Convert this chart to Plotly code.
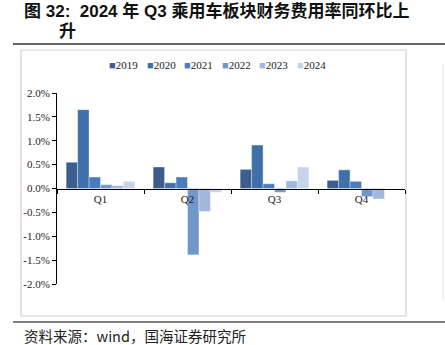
import plotly.graph_objects as go

quarters = ["Q1", "Q2", "Q3", "Q4"]
years = ["2019", "2020", "2021", "2022", "2023", "2024"]
values = {
    "2019": [0.55, 0.45, 0.40, 0.17],
    "2020": [1.65, 0.12, 0.91, 0.39],
    "2021": [0.24, 0.24, 0.10, 0.15],
    "2022": [0.08, -1.39, -0.08, -0.17],
    "2023": [0.06, -0.48, 0.16, -0.22],
    "2024": [0.15, -0.08, 0.45, None],
}
colors = ["#3B5E8E", "#4070A9", "#4A7DBF", "#7196CA", "#A3B7DA", "#C6D3E8"]
ytick_vals = [2.0, 1.5, 1.0, 0.5, 0.0, -0.5, -1.0, -1.5, -2.0]
ytick_text = [f"{v:.1f}%" for v in ytick_vals]

title_line1 = "<b>图 32:  2024 年 Q3 乘用车板块财务费用率同环比上</b>"
title_line2 = "<b>升</b>"
source_text = "资料来源：wind，国海证券研究所"

W, H = 445, 345
L, R, T, B = 57, 40, 93, 61
PW, PH = W - L - R, H - T - B


def px(x):
    return (x - L) / PW


def py(y):
    return (H - B - y) / PH


fig = go.Figure()
for yr, c in zip(years, colors):
    fig.add_trace(go.Bar(
        x=quarters, y=values[yr], name=yr,
        marker=dict(color=c, line=dict(color="rgba(255,255,255,0.6)", width=0.6)),
        showlegend=False,
    ))

serif = "Liberation Serif, Times New Roman, serif"
fig.update_layout(
    width=W, height=H,
    margin=dict(l=L, r=R, t=T, b=B),
    paper_bgcolor="white", plot_bgcolor="white",
    barmode="group", bargap=0.21, bargroupgap=0,
    xaxis=dict(
        type="category", anchor="free", position=0.5,
        showline=True, linecolor="black", linewidth=1,
        ticks="outside", tickson="boundaries", ticklen=4, tickcolor="black",
        showgrid=False, tickfont=dict(family=serif, size=11, color="#222"),
    ),
    yaxis=dict(
        range=[-2, 2], tickvals=ytick_vals, ticktext=ytick_text,
        showline=True, linecolor="black", linewidth=1,
        ticks="outside", ticklen=4, tickcolor="black",
        showgrid=False, zeroline=False,
        tickfont=dict(family=serif, size=11, color="#222"),
    ),
    font=dict(family=serif),
)

shapes = [
    dict(type="rect", xref="paper", yref="paper", x0=px(21), x1=px(406), y0=py(316), y1=py(50),
         line=dict(color="#D0D0D0", width=1.2), layer="below"),
    dict(type="line", xref="paper", yref="paper", x0=px(13), x1=px(445), y0=py(44), y1=py(44),
         line=dict(color="#333333", width=1.5)),
    dict(type="line", xref="paper", yref="paper", x0=px(13), x1=px(445), y0=py(322), y1=py(322),
         line=dict(color="#555555", width=1.5)),
    dict(type="line", xref="paper", yref="paper", x0=px(443), x1=px(443), y0=py(300), y1=py(64),
         line=dict(color="#E4E4E4", width=1)),
]
fig.update_layout(shapes=shapes)

annotations = []
for i, (yr, c) in enumerate(zip(years, colors)):
    annotations.append(dict(
        xref="paper", yref="paper", x=px(107 + i * 37.6), y=py(65),
        xanchor="left", yanchor="middle", showarrow=False,
        text=f"<span style='color:{c}'>■</span>{yr}",
        font=dict(family=serif, size=11, color="#222"),
    ))
cjk = "Liberation Sans, Arial, Noto Sans CJK SC, sans-serif"
annotations.append(dict(
    xref="paper", yref="paper", x=px(22), y=py(11), xanchor="left", yanchor="middle",
    showarrow=False, text=title_line1, font=dict(family=cjk, size=17, color="#111"),
))
annotations.append(dict(
    xref="paper", yref="paper", x=px(57), y=py(31), xanchor="left", yanchor="middle",
    showarrow=False, text=title_line2, font=dict(family=cjk, size=17, color="#111"),
))
annotations.append(dict(
    xref="paper", yref="paper", x=px(22), y=py(335), xanchor="left", yanchor="middle",
    showarrow=False, text=source_text, font=dict(family="Noto Sans CJK SC, sans-serif", size=14.5, color="#222"),
))
fig.update_layout(annotations=annotations)

fig.write_html("out.html")
